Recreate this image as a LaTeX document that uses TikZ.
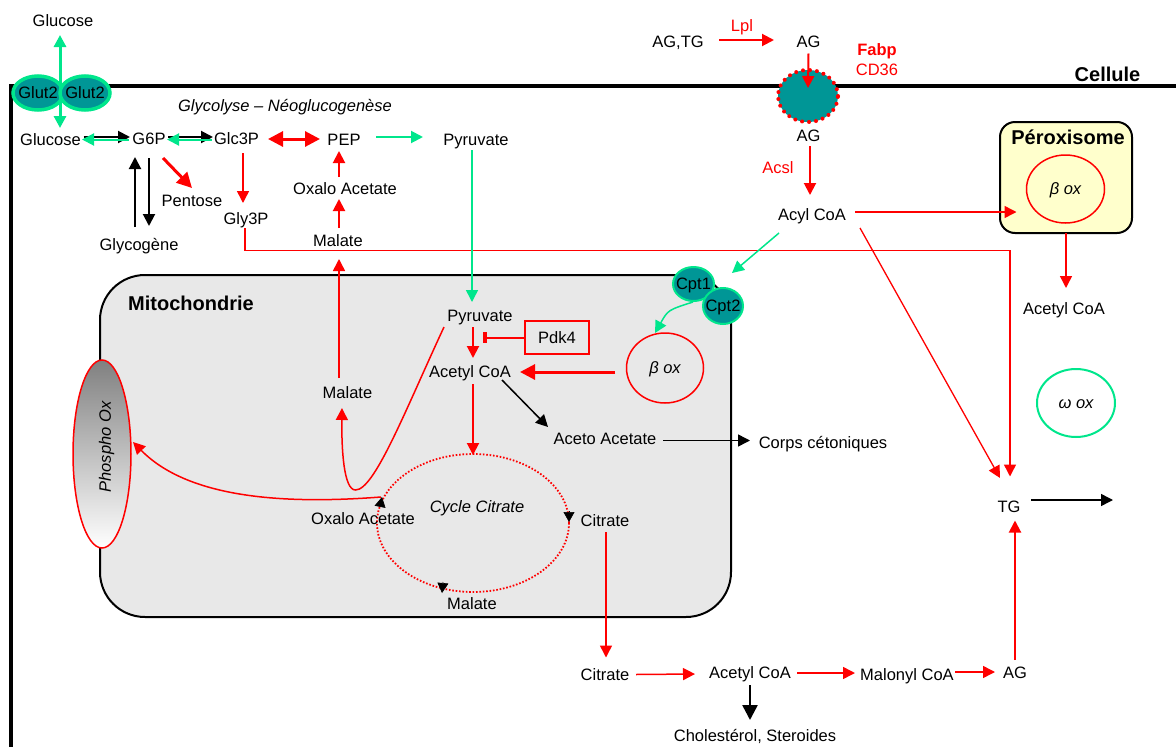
\documentclass[tikz,border=0pt]{standalone}
\usepackage{fontspec}
\setmainfont{Liberation Sans}
\usetikzlibrary{arrows.meta,shapes.geometric,calc}
\definecolor{mint}{RGB}{0,230,140}
\definecolor{teal2}{RGB}{0,150,150}
\definecolor{mitofill}{RGB}{232,232,232}
\definecolor{peroxfill}{RGB}{255,255,204}
\definecolor{shadegray}{RGB}{128,128,128}
\begin{document}
\begin{tikzpicture}[x=1pt,y=-1pt,
 txt/.style={inner sep=0pt,outer sep=0pt,text height=11.8pt,text depth=0pt,font=\fontsize{16.5}{19}\selectfont},
 itxt/.style={txt,font=\fontsize{16.5}{19}\selectfont\itshape},
 btxt/.style={txt,font=\fontsize{20}{24}\selectfont\bfseries,text height=14.3pt},
 ahead/.style={-{Triangle[length=12pt,width=12pt]}},
 ahead2/.style={{Triangle[length=12pt,width=12pt]}-{Triangle[length=12pt,width=12pt]}},
 aheadL/.style={{Triangle[length=12pt,width=12pt]}-},
 bighead/.style={-{Triangle[length=15pt,width=15pt]}},
 bighead2/.style={{Triangle[length=15pt,width=15pt]}-{Triangle[length=15pt,width=15pt]}},
 smallhead/.style={-{Triangle[length=10pt,width=11pt]}},
 rline/.style={draw=red,line width=1.5pt},
 gline/.style={draw=mint,line width=1.5pt},
 kline/.style={draw=black,line width=1.5pt},
 enz/.style={ellipse,draw=mint,fill=teal2,line width=2.5pt,inner sep=0pt,outer sep=0pt},
 oxring/.style={ellipse,draw=red,line width=1.5pt,inner sep=0pt,outer sep=0pt},
]
\useasboundingbox (0,0) rectangle (1176,747);

% compartments
\node[draw,line width=2pt,fill=mitofill,rounded corners=45pt,minimum width=631pt,minimum height=342pt,inner sep=0pt] (mito) at (415.5,446) {};
\node[draw,line width=2pt,fill=peroxfill,rounded corners=15pt,minimum width=132pt,minimum height=111pt,inner sep=0pt] (perox) at (1066,177.5) {};
\draw[line width=4pt] (11,747) -- (11,86) -- (1176,86);

% titles
\node[btxt] (cellule) at (1107.5,74) {Cellule};
\node[btxt] (mitolbl) at (191,303) {Mitochondrie};
\node[btxt] (peroxlbl) at (1068,137.5) {Péroxisome};
\node[itxt] (glyco) at (285,106) {Glycolyse – Néoglucogenèse};

% membrane proteins
\node[enz,line width=3.5pt,minimum width=50pt,minimum height=34pt,label={[txt]center:Glut2}] (glut2a) at (38,93) {};
\node[enz,line width=3.5pt,minimum width=50pt,minimum height=34pt,label={[txt]center:Glut2}] (glut2b) at (85,93) {};
\node[ellipse,fill=teal2,minimum width=60pt,minimum height=52pt,inner sep=0pt] (cd36c) at (808,96) {};
\draw[red,line width=4pt,dash pattern=on 0pt off 7pt,line cap=round] (cd36c.center) ellipse [x radius=30pt,y radius=26pt];
\node[enz,line width=2pt,minimum width=41pt,minimum height=34pt,label={[txt]center:Cpt1}] (cpt1) at (693.5,284) {};
\node[enz,line width=2pt,minimum width=40pt,minimum height=36pt,label={[txt]center:Cpt2}] (cpt2) at (723,306) {};

% oxidation rings
\node[oxring,minimum width=77pt,minimum height=70pt,label={[itxt]center:β ox}] (mbeta) at (665,368) {};
\node[oxring,minimum width=78pt,minimum height=68pt,label={[itxt]center:β ox}] (pbeta) at (1065.5,189) {};
\node[ellipse,draw=mint,line width=2pt,fill=white,minimum width=78pt,minimum height=68pt,inner sep=0pt,label={[itxt]center:ω ox}] (omega) at (1076,403) {};
\node[ellipse,draw=red,line width=1.5pt,top color=shadegray,bottom color=white,minimum width=58pt,minimum height=188pt,inner sep=0pt] (phospho) at (102,454) {};
\node[itxt,rotate=90] (phosphotxt) at (105,447) {Phospho Ox};
\node[ellipse,draw=red,line width=1.8pt,dash pattern=on 1.6pt off 1.8pt,minimum width=192pt,minimum height=138pt,inner sep=0pt] (cycle) at (473,523) {};
\node[itxt] (cyclelbl) at (477,506.5) {Cycle Citrate};
\node[txt,draw=red,line width=1.5pt,minimum width=64pt,minimum height=33pt] (pdk4) at (557,337.5) {Pdk4};

% metabolites
\node[txt] (gtop) at (63,21) {Glucose};
\node[txt] (gluc) at (50.5,140) {Glucose};
\node[txt] (g6p) at (149,138.5) {G6P};
\node[txt] (glc3p) at (236.5,139) {Glc3P};
\node[txt] (pep) at (344,140) {PEP};
\node[txt] (pyr1) at (476,140) {Pyruvate};
\node[txt] (pentose) at (192,201) {Pentose};
\node[txt] (glycogene) at (139,245) {Glycogène};
\node[txt] (gly3p) at (246,219) {Gly3P};
\node[txt] (oxalo1) at (345,188.5) {Oxalo Acetate};
\node[txt] (malate1) at (338,241) {Malate};
\node[txt] (agtg) at (678,41.5) {AG,TG};
\node[txt,red] (lpl) at (742,26) {Lpl};
\node[txt] (ag1) at (808.5,41.5) {AG};
\node[txt,red,font=\fontsize{16.5}{19}\selectfont\bfseries] (fabp) at (877,50) {Fabp};
\node[txt,red] (cd36) at (877,69.5) {CD36};
\node[txt] (ag2) at (808.5,136) {AG};
\node[txt,red] (acsl) at (778,168) {Acsl};
\node[txt] (acyl) at (812,215) {Acyl CoA};
\node[txt] (acetyl3) at (1064,309) {Acetyl CoA};
\node[txt] (pyr2) at (480,316) {Pyruvate};
\node[txt] (acetyl1) at (470,372) {Acetyl CoA};
\node[txt] (aceto) at (605,438.5) {Aceto Acetate};
\node[txt] (corps) at (823,443) {Corps cétoniques};
\node[txt] (malate2) at (347.5,393) {Malate};
\node[txt] (oxalo2) at (363,518.5) {Oxalo Acetate};
\node[txt] (citrate1) at (605,521) {Citrate};
\node[txt] (malate3) at (472,604) {Malate};
\node[txt] (tg) at (1009,506.5) {TG};
\node[txt] (citrate2) at (605,674.5) {Citrate};
\node[txt] (acetyl2) at (750,673) {Acetyl CoA};
\node[txt] (malonyl) at (907,675) {Malonyl CoA};
\node[txt] (ag3) at (1015,673) {AG};
\node[txt] (chol) at (755,736) {Cholestérol, Steroides};
\coordinate (tgout) at (1113,500);

% glucose transport
\draw[gline,line width=3pt,ahead2] ($(gtop)+(-3,14)$) -- ($(gluc)+(9.5,-12)$);
\draw[kline,line width=2pt,ahead] ($(gluc)+(33,-3)$) -- ($(g6p)+(-19,-1.5)$);
\draw[gline,line width=2pt,aheadL] ($(gluc)+(31.5,-0.5)$) -- ($(g6p)+(-20,1)$);
\draw[kline,line width=2pt,ahead] ($(g6p)+(19,-1.5)$) -- ($(glc3p)+(-23.5,-2)$);
\draw[gline,line width=2pt,aheadL] ($(g6p)+(18,1)$) -- ($(glc3p)+(-24.5,0.5)$);
\draw[rline,line width=3pt,bighead2] ($(glc3p)+(31.5,0)$) -- ($(pep)+(-24,-1)$);
\draw[gline,line width=2pt,ahead] ($(pep)+(32,-3)$) -- ($(pyr1)+(-53,-3)$);
\draw[rline,line width=3pt,bighead] ($(g6p)+(14,19.5)$) -- ($(pentose)+(0,-13)$);
\draw[kline,line width=2pt,ahead] ($(glycogene)+(-4,-18)$) -- ($(g6p)+(-14,18.5)$);
\draw[kline,line width=2pt,ahead] ($(g6p)+(0,19.5)$) -- ($(glycogene)+(10,-19)$);
\draw[rline,ahead] ($(glc3p)+(6.5,14)$) -- ($(gly3p)+(-3,-16)$);
\draw[rline,ahead] ($(gly3p)+(-1,9)$) |- ($(tg)+(1,-256)$) -- ($(tg)+(1,-30)$);
\draw[rline,line width=2pt,ahead] ($(oxalo1)+(-6,-11.5)$) -- ($(pep)+(-5,11)$);
\draw[rline,line width=2pt,ahead] ($(malate1)+(1,-13)$) -- ($(oxalo1)+(-6,10.5)$);
\draw[rline,ahead] ($(malate2)+(-8.5,-15)$) -- ($(malate1)+(1,18)$);
\draw[gline,ahead] ($(pyr1)+(-4,10)$) -- ($(pyr2)+(-8,-14)$);

% mitochondrion
\draw[rline,line width=2pt,ahead] ($(pyr2)+(-7,11)$) -- ($(acetyl1)+(3,-14)$);
\draw[rline,line width=2pt,-{Rectangle[length=4pt,width=11pt]}] (pdk4.west) -- ($(pdk4)+(-74,0)$);
\draw[rline,line width=3pt,bighead] ($(mbeta)+(-50,4)$) -- ($(acetyl1)+(50,0)$);
\draw[kline,ahead] ($(acetyl1)+(32,8)$) -- ($(aceto)+(-57,-11.5)$);
\draw[kline,ahead] ($(aceto)+(58,2)$) -- ($(corps)+(-73,-2.5)$);
\draw[rline,line width=2pt,ahead] ($(acetyl1)+(3,12)$) -- ($(cycle)+(0,-68)$);
\draw[rline,ahead] ($(pyr2)+(-36,11)$) .. controls ($(pyr2)+(-75,95)$) and ($(malate2)+(27,97)$) .. ($(malate2)+(8,97)$) .. controls ($(malate2)+(-4,97)$) and ($(malate2)+(-6,55)$) .. ($(malate2)+(-5.5,15)$);
\draw[rline,ahead] ($(oxalo2)+(18,-21.5)$) .. controls ($(oxalo2)+(-73,-14.5)$) and ($(phospho)+(88,46)$) .. ($(phospho)+(31,-12)$);
\draw[black,line width=0.6pt,smallhead] ($(cycle)+(-93,-16)$) -- ($(cycle)+(-91,-26)$);
\draw[black,line width=0.6pt,smallhead] ($(cycle)+(96,-12)$) -- ($(cycle)+(96,-1)$);
\draw[black,line width=0.6pt,smallhead] ($(cycle)+(-30,59)$) -- ($(cycle)+(-31,70)$);

% lipogenesis
\draw[rline,ahead] ($(citrate1)+(1,11)$) -- ($(citrate2)+(1,-17)$);
\draw[rline,ahead] ($(citrate2)+(31,0)$) -- ($(acetyl2)+(-55,1)$);
\draw[rline,ahead] ($(acetyl2)+(47,0)$) -- ($(malonyl)+(-52,-2)$);
\draw[rline,ahead] ($(malonyl)+(48,-3)$) -- ($(ag3)+(-20,-1)$);
\draw[rline,line width=2pt,ahead] ($(ag3)+(0,-13)$) -- ($(tg)+(6,14)$);
\draw[kline,line width=2.5pt,bighead] ($(acetyl2)+(0,12)$) -- ($(chol)+(-5,-16)$);
\draw[kline,ahead] ($(tg)+(22,-6.5)$) -- (tgout);

% fatty acid uptake and oxidation
\draw[rline,line width=2pt,ahead] ($(agtg)+(41,-1.5)$) -- ($(ag1)+(-34.5,-1.5)$);
\draw[rline,line width=2pt,ahead] ($(ag1)+(0,12)$) -- ($(cd36c)+(0,-8)$);
\draw[rline,line width=2pt,ahead] ($(ag2)+(1.5,10)$) -- ($(acyl)+(-2,-20)$);
\draw[rline,ahead] ($(acyl)+(43,-3)$) -- ($(pbeta)+(-49,23)$);
\draw[rline,line width=1.3pt,ahead] ($(acyl)+(48,13)$) -- ($(tg)+(-9,-28.5)$);
\draw[gline,ahead] ($(acyl)+(-33,18)$) -- ($(cpt1)+(38.5,-11)$);
\draw[gline,ahead] ($(cpt2)+(-30,-4)$) .. controls ($(cpt2)+(-55,4)$) .. ($(mbeta)+(-10,-35)$);
\draw[rline,ahead] ($(perox)+(0,55.5)$) -- ($(acetyl3)+(2,-21)$);
\end{tikzpicture}
\end{document}
